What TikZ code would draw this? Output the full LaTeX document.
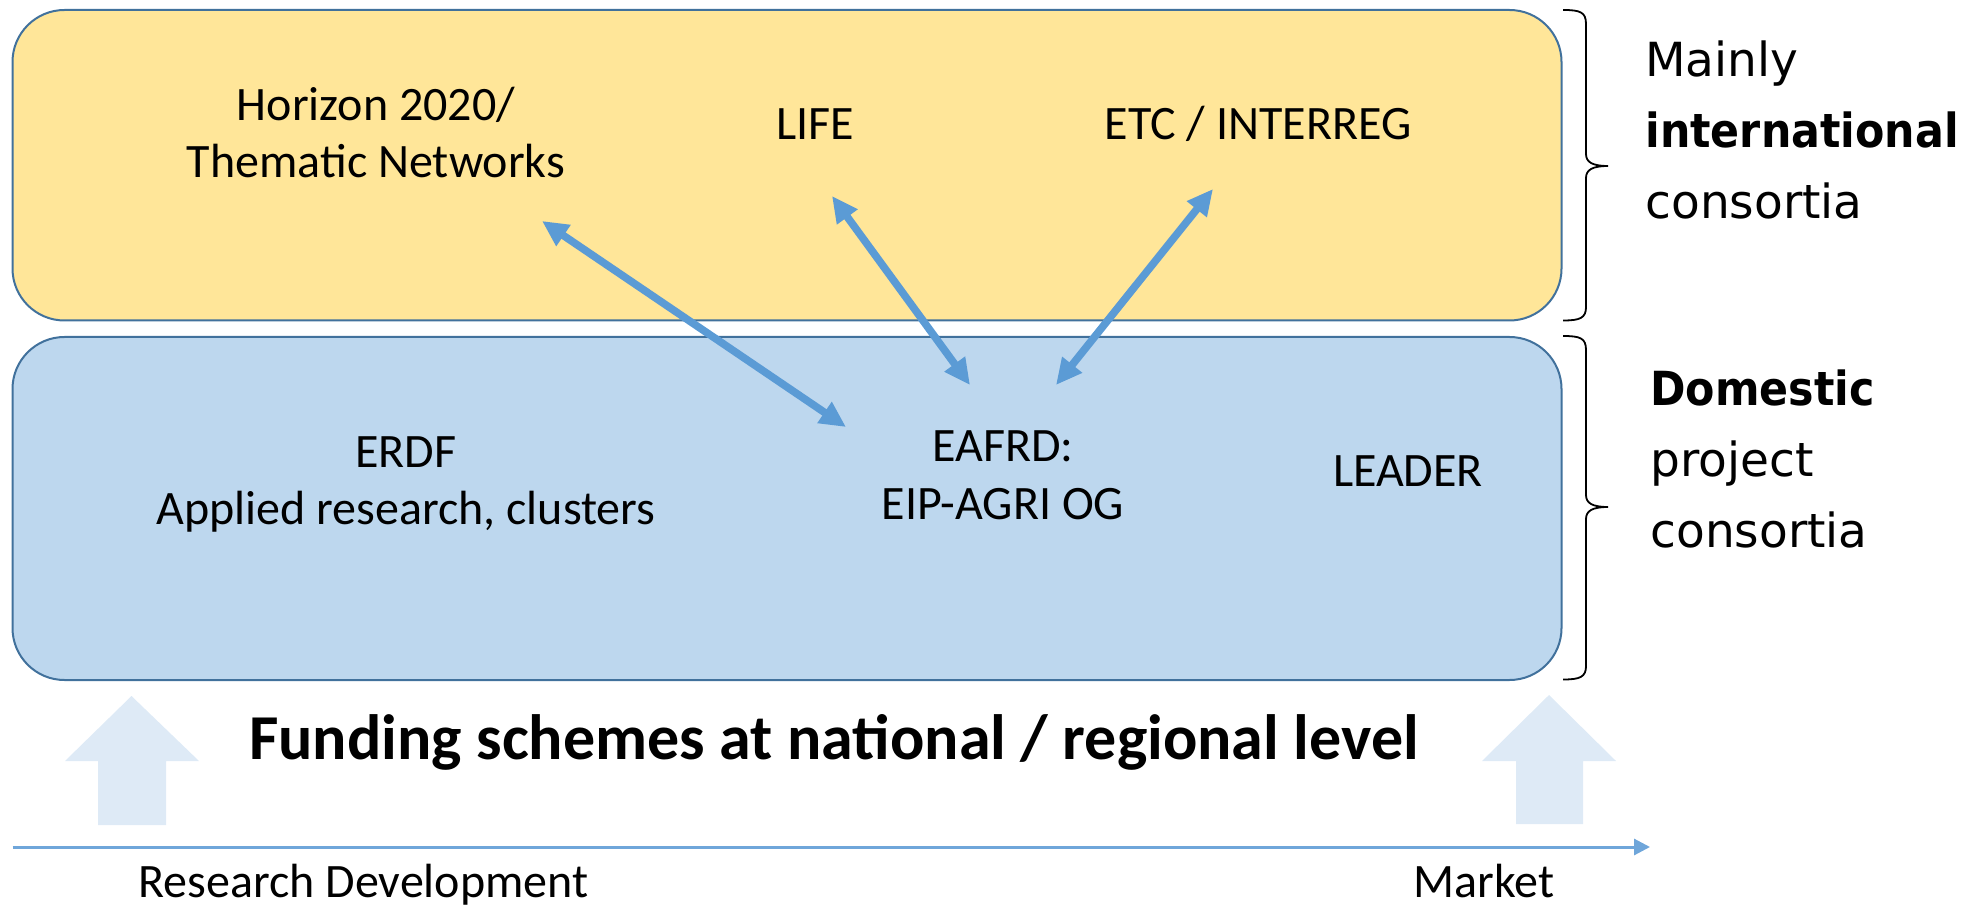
\documentclass[tikz,border=0pt]{standalone}
\usepackage{fontspec}
\setmainfont{Carlito}
\newfontfamily\sidefont{DejaVu Sans}[BoldFeatures={FakeStretch=0.91}]
\usetikzlibrary{arrows.meta}

\definecolor{intlfill}{HTML}{FFE699}
\definecolor{domfill}{HTML}{BDD7EE}
\definecolor{boxedge}{HTML}{41719C}
\definecolor{linkblue}{HTML}{5B9BD5}
\definecolor{axisblue}{HTML}{6FA6DA}
\definecolor{paleup}{HTML}{DEEAF6}

\begin{document}
\begin{tikzpicture}[x=0.5pt,y=-0.5pt,
  panel/.style={draw=boxedge,line width=1pt,rounded corners=26pt},
  lbl/.style={font=\fontsize{24}{28.5}\selectfont,align=center,inner sep=0pt,anchor=base},
  side/.style={font=\sidefont\fontsize{23.5}{35.5}\selectfont,align=left,inner sep=0pt,anchor=base west},
  link/.style={draw=linkblue,line width=3.8pt,{Triangle[length=13pt,width=12pt]}-{Triangle[length=13pt,width=12pt]}},
  axis/.style={draw=axisblue,line width=1.5pt,-{Triangle[length=8pt,width=8pt]}},
  bigup/.style={fill=paleup,draw=none},
  bracket/.style={draw=black,line width=0.9pt}]
\useasboundingbox (0,0) rectangle (1963,908);

% two funding layers
\draw[panel,fill=intlfill] (12.5,10) rectangle (1561.5,320.5);
\draw[panel,fill=domfill] (12.5,337) rectangle (1561.5,680);

% programme labels, upper layer (anchored on their last baseline)
\node[lbl] (horizon) at (376,178) {Horizon 2020/\\Thematic Networks};
\node[lbl] (life) at (815,140) {LIFE};
\node[lbl] (etc) at (1258,140) {ETC / INTERREG};

% programme labels, lower layer
\node[lbl] (erdf) at (406,524) {ERDF\\Applied research, clusters};
\node[lbl] (eafrd) at (1003,519) {EAFRD:\\EIP-AGRI OG};
\node[lbl] (leader) at (1408,487) {LEADER};

% links between EAFRD and the international programmes
\coordinate (h1) at (542,221);
\coordinate (h2) at (846,427);
\coordinate (l1) at (832,196);
\coordinate (l2) at (970,385);
\coordinate (e1) at (1213,189);
\coordinate (e2) at (1056,385);
\draw[link] (h1) -- (h2);
\draw[link] (l1) -- (l2);
\draw[link] (e1) -- (e2);

% braces and their captions
\draw[bracket] (1563,10) .. controls (1580,10) and (1586,12) .. (1586,24)
  -- (1586,154) .. controls (1586,162) and (1592,166) .. (1608,166)
  .. controls (1592,166) and (1586,170) .. (1586,178)
  -- (1586,307) .. controls (1586,318) and (1580,320.5) .. (1563,320.5);
\draw[bracket] (1563,336) .. controls (1580,336) and (1586,338) .. (1586,350)
  -- (1586,495) .. controls (1586,503) and (1592,507) .. (1608,507)
  .. controls (1592,507) and (1586,511) .. (1586,519)
  -- (1586,666) .. controls (1586,677) and (1580,679.5) .. (1563,679.5);
\node[side] (intl) at (1645,219) {Mainly\\\textbf{international}\\consortia};
\node[side] (dom) at (1650,547) {\textbf{Domestic}\\project\\consortia};

% funding push arrows
\fill[bigup] (131.5,696) -- (199,761) -- (166,761) -- (166,825) -- (98,825) -- (98,761) -- (65,761) -- cycle;
\fill[bigup] (1549,695) -- (1616,761) -- (1583,761) -- (1583,824) -- (1516,824) -- (1516,761) -- (1482,761) -- cycle;
\node[font=\bfseries\fontsize{32}{36}\selectfont,inner sep=0pt,anchor=base] (funding) at (834,759) {Funding schemes at national / regional level};

% research-to-market axis
\coordinate (axstart) at (12.5,847);
\coordinate (axend) at (1650,847);
\draw[axis] (axstart) -- (axend);
\node[font=\fontsize{24}{28}\selectfont,inner sep=0pt,anchor=base west] (rd) at (138,897) {Research Development};
\node[font=\fontsize{24}{28}\selectfont,inner sep=0pt,anchor=base west] (market) at (1413,897) {Market};
\end{tikzpicture}
\end{document}
